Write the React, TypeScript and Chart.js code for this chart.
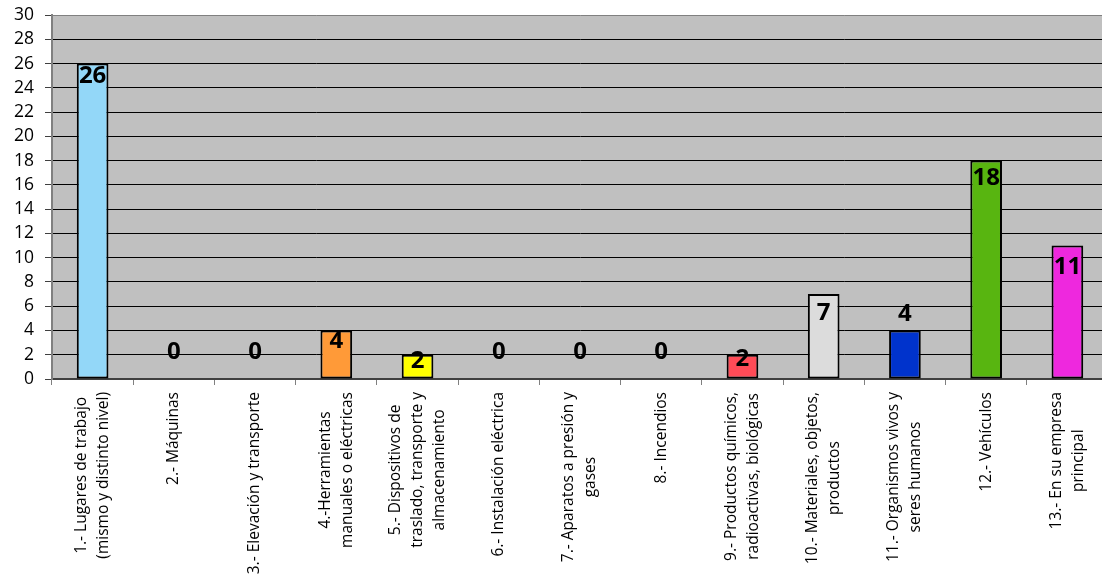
import React, { useEffect, useRef } from "react";
import { Chart, registerables } from "chart.js";

Chart.register(...registerables);

const categories: string[][] = [
  ["1.- Lugares de trabajo", "(mismo y distinto nivel)"],
  ["2.- Máquinas"],
  ["3.- Elevación y transporte"],
  ["4.-Herramientas", "manuales o eléctricas"],
  ["5.- Dispositivos de", "traslado, transporte y", "almacenamiento"],
  ["6.- Instalación eléctrica"],
  ["7.- Aparatos a presión y", "gases"],
  ["8.- Incendios"],
  ["9.- Productos químicos,", "radioactivas, biológicas"],
  ["10.- Materiales, objetos,", "productos"],
  ["11.- Organismos vivos y", "seres humanos"],
  ["12.- Vehículos"],
  ["13.- En su empresa", "principal"],
];

const values: number[] = [26, 0, 0, 4, 2, 0, 0, 0, 2, 7, 4, 18, 11];

const barColors: string[] = [
  "#93D7F8", "#93D7F8", "#93D7F8", "#FF9A38", "#FFFF00", "#93D7F8", "#93D7F8",
  "#93D7F8", "#FF4B57", "#DCDCDC", "#0033CC", "#58B510", "#EE28DE",
];

const yMin = 0;
const yMax = 30;
const yStep = 2;

// vertical offset (px) of each value label's centre from the bar top
const labelDy: number[] = [13, -27, -27, 11, 6, -27, -27, -27, 4, 19, -16, 18, 22];

const FONT = "'Open Sans', sans-serif";

const plotBg = {
  id: "plotBg",
  beforeDraw(chart: any) {
    const { ctx, chartArea } = chart;
    ctx.save();
    ctx.fillStyle = "#C0C0C0";
    ctx.fillRect(chartArea.left, chartArea.top, chartArea.right - chartArea.left, chartArea.bottom - chartArea.top);
    ctx.restore();
  },
};

const valueLabels = {
  id: "valueLabels",
  afterDatasetsDraw(chart: any) {
    const { ctx } = chart;
    const meta = chart.getDatasetMeta(0);
    ctx.save();
    ctx.font = `bold 24px ${FONT}`;
    ctx.fillStyle = "#000";
    ctx.textAlign = "center";
    ctx.textBaseline = "middle";
    meta.data.forEach((el: any, i: number) => {
      ctx.fillText(String(values[i]), el.x, el.y + labelDy[i]);
    });
    ctx.restore();
  },
};

const xLabels = {
  id: "xLabels",
  afterDraw(chart: any) {
    const { ctx } = chart;
    const xs = chart.scales.x;
    const top = xs.top + 13;
    const lh = 22;
    ctx.save();
    ctx.font = `15.5px ${FONT}`;
    ctx.fillStyle = "#000";
    ctx.textAlign = "center";
    ctx.textBaseline = "middle";
    categories.forEach((lines, i) => {
      const x = xs.getPixelForValue(i);
      const maxW = Math.max(...lines.map((l) => ctx.measureText(l).width));
      const n = lines.length;
      ctx.save();
      ctx.translate(x, top + maxW / 2);
      ctx.rotate(-Math.PI / 2);
      lines.forEach((l, j) => {
        ctx.fillText(l, 0, (j - (n - 1) / 2) * lh);
      });
      ctx.restore();
    });
    ctx.restore();
  },
};

export default function App() {
  const ref = useRef<HTMLCanvasElement | null>(null);

  useEffect(() => {
    if (!ref.current) return;
    const chart = new Chart(ref.current, {
      type: "bar",
      data: {
        labels: categories,
        datasets: [
          {
            data: values,
            backgroundColor: barColors,
            borderColor: "#000",
            borderWidth: values.map((v) => (v === 0 ? 0 : 2)),
            borderSkipped: false,
            barPercentage: 0.39,
            categoryPercentage: 1,
          },
        ],
      },
      options: {
        responsive: false,
        animation: false,
        layout: { padding: { top: 15, left: 0, right: 0, bottom: 0 } },
        plugins: {
          legend: { display: false },
          tooltip: { enabled: false },
          title: { display: false },
        },
        scales: {
          x: {
            offset: true,
            grid: {
              offset: true,
              drawOnChartArea: false,
              drawTicks: true,
              tickLength: 6,
              color: "#808080",
              lineWidth: 1,
            },
            border: { display: true, color: "#404040", width: 2 },
            ticks: { display: false },
            afterFit(scale: any) {
              scale.height = 206;
              scale.paddingLeft = 0;
              scale.paddingRight = 0;
            },
          },
          y: {
            min: yMin,
            max: yMax,
            ticks: {
              stepSize: yStep,
              autoSkip: false,
              color: "#000",
              font: { family: FONT, size: 17.5 },
              padding: 11,
            },
            grid: {
              color: (c: any) => (c.tick && c.tick.value === yMax ? "#808080" : "#000"),
              lineWidth: 1,
              tickLength: 7,
              tickColor: "#404040",
            },
            border: { display: true, color: "#808080", width: 2 },
            afterFit(scale: any) {
              scale.width = 52;
              scale.paddingTop = 0;
              scale.paddingBottom = 0;
            },
          },
        },
      },
      plugins: [plotBg, valueLabels, xLabels],
    });
    return () => chart.destroy();
  }, []);

  return (
    <div style={{ position: "fixed", left: 0, top: 0, width: 1108, height: 585, background: "#fff" }}>
      <canvas ref={ref} width={1108} height={585} style={{ display: "block" }} />
    </div>
  );
}
